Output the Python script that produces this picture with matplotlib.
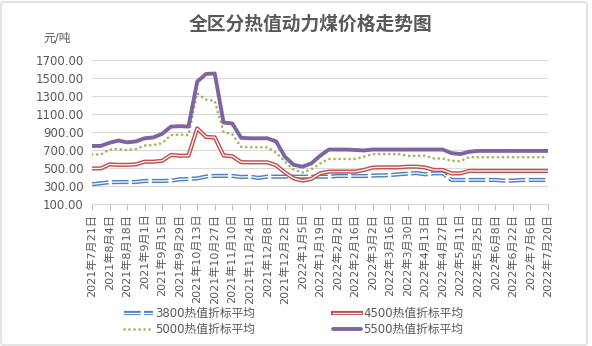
import matplotlib
matplotlib.use("Agg")
import matplotlib.pyplot as plt
from matplotlib.patches import FancyBboxPatch
import pandas as pd

plt.rcParams['font.family'] = ['DejaVu Sans', 'Noto Sans CJK SC']

# weekly prices, 2021-07-21 .. 2022-07-20
weeks = pd.date_range('2021-07-21', '2022-07-20', freq='7D')

p3800 = [320, 330, 342, 344, 344, 344, 356, 356, 356, 360, 374, 378,
         385, 405, 412, 412, 412, 400, 404, 390, 404, 404, 404,
         404, 404, 404, 404, 404, 411, 411, 411, 411,
         415, 418, 422, 430, 437, 444, 430, 441, 441,
         367, 367, 367, 367, 367, 367, 360, 360, 367, 367, 367, 367]
p4500 = [495, 495, 540, 535, 535, 540, 570, 570, 580, 645, 637, 637,
         940, 845, 840, 640, 630, 565, 563, 563, 563, 530, 450,
         385, 360, 378, 440, 460, 460, 460, 460, 478,
         505, 507, 507, 507, 515, 515, 505, 478, 478,
         440, 440, 468, 467, 467, 467, 467, 467, 467, 467, 467, 467]
p5000 = [650, 650, 705, 710, 700, 710, 750, 755, 775, 865, 870, 865,
         1330, 1260, 1245, 900, 875, 735, 730, 730, 730, 670, 570,
         480, 450, 485, 550, 600, 600, 600, 600, 625,
         655, 655, 655, 655, 635, 635, 635, 605, 605,
         580, 575, 620, 620, 620, 620, 620, 620, 620, 620, 620, 620]
p5500 = [745, 745, 780, 805, 785, 795, 830, 840, 880, 960, 965, 960,
         1460, 1545, 1550, 1005, 995, 835, 830, 830, 830, 795, 625,
         535, 515, 550, 635, 705, 705, 705, 700, 695,
         705, 705, 705, 705, 705, 705, 705, 705, 705,
         665, 655, 680, 690, 690, 690, 690, 690, 690, 690, 690, 690]

labels = ['3800热值折标平均', '4500热值折标平均', '5000热值折标平均', '5500热值折标平均']
tick_labels = [f'{d.year}年{d.month}月{d.day}日' for d in weeks[::2]]

grey = '#595959'
x = list(range(len(weeks)))

fig = plt.figure(figsize=(5.92, 3.46), dpi=100)
ax = fig.add_axes([92 / 592, 1 - 204 / 346, 456 / 592, 144 / 346])

# double lines: coloured body with a white core
b1, = ax.plot(x, p3800, color='#4f81bd', lw=3.0, linestyle=(0, (4, 0.8)),
              solid_joinstyle='round', dash_joinstyle='round')
b2, = ax.plot(x, p3800, color='white', lw=0.9, solid_joinstyle='round')
r1, = ax.plot(x, p4500, color='#c0504d', lw=3.0, solid_joinstyle='round')
r2, = ax.plot(x, p4500, color='white', lw=0.9, solid_joinstyle='round')
g1, = ax.plot(x, p5000, color='#9bbb59', lw=2.0, linestyle=(0, (0.01, 1.8)),
              dash_capstyle='round')
v1, = ax.plot(x, p5500, color='#8064a2', lw=2.8, solid_joinstyle='round',
              solid_capstyle='round')

ax.set_xlim(0, len(weeks) - 1)
ax.set_ylim(100, 1700)
ax.set_yticks(range(100, 1800, 200))
ax.set_yticklabels([f'{v:.2f}' for v in range(100, 1800, 200)])
ax.set_xticks(x[::2])
ax.set_xticklabels(tick_labels, rotation=90)
ax.tick_params(axis='y', length=0, pad=6, labelsize=8.5, labelcolor=grey)
ax.tick_params(axis='x', length=4, width=0.8, color='#bfbfbf', pad=3,
               labelsize=8, labelcolor=grey)
ax.grid(axis='y', color='#d9d9d9', lw=0.8)
ax.set_axisbelow(True)
for s in ['top', 'right', 'left']:
    ax.spines[s].set_visible(False)
ax.spines['bottom'].set_color('#d9d9d9')
ax.spines['bottom'].set_linewidth(0.8)

fig.text(311 / 592, 1 - 24 / 346, '全区分热值动力煤价格走势图', ha='center', va='center',
         fontsize=13.5, fontweight='bold', color=grey,
         family=['Noto Sans CJK SC', 'DejaVu Sans'])
fig.text(43 / 592, 1 - 38 / 346, '元/吨', ha='left', va='center', fontsize=8.5, color=grey)

# legend filled column-wise, so order handles to read row by row
handles = [(b1, b2), g1, (r1, r2), v1]
order = [labels[0], labels[2], labels[1], labels[3]]
fig.legend(handles, order, ncol=2, loc='center',
           bbox_to_anchor=(294 / 592, 1 - 321.5 / 346), frameon=False,
           fontsize=8.5, labelcolor=grey, handlelength=2.4, handletextpad=0.2,
           columnspacing=6.6, labelspacing=0.2, borderpad=0)

# chart area border
fig.patches.append(FancyBboxPatch((1 / 592, 1 / 346), 586 / 592, 343 / 346,
                                  boxstyle='round,pad=0,rounding_size=0.006',
                                  transform=fig.transFigure, fill=False,
                                  ec='#d9d9d9', lw=1))

fig.savefig('out.png', dpi=100)
